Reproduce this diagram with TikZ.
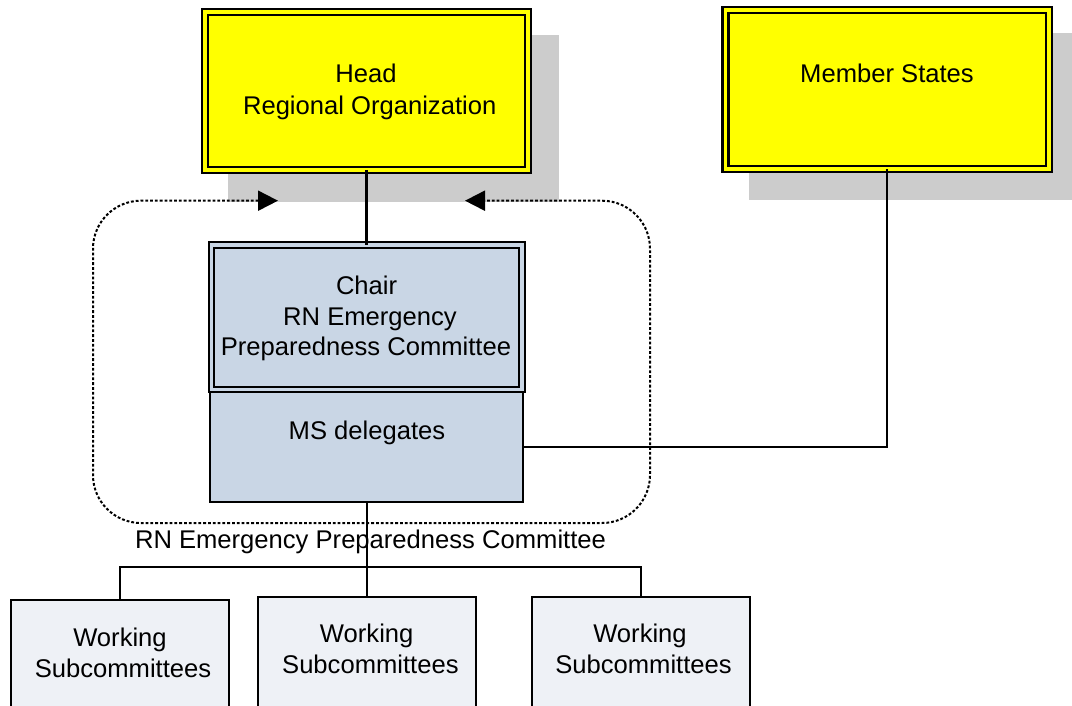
\documentclass[tikz,border=0pt]{standalone}
\usepackage{fontspec}
\setmainfont{Liberation Sans}
\usetikzlibrary{arrows.meta}
\definecolor{shadowgray}{HTML}{CCCCCC}
\definecolor{boxyellow}{HTML}{FFFF00}
\definecolor{chairblue}{HTML}{C9D6E5}
\definecolor{wsfill}{HTML}{EEF1F6}
\begin{document}
\begin{tikzpicture}[x=1pt,y=-1pt,
  every node/.style={inner sep=0pt, outer sep=0pt},
  txt/.style={font=\fontsize{25.6}{31}\selectfont, anchor=base},
  shadowbox/.style={rectangle, fill=shadowgray, draw=none},
  yellowbox/.style={rectangle, draw=black, line width=2.2pt, double=boxyellow, double distance=3.8pt, fill=boxyellow},
  chairbox/.style={rectangle, draw=black, line width=2pt, double=chairblue, double distance=3.2pt, fill=chairblue},
  msbox/.style={rectangle, draw=black, line width=2.2pt, fill=chairblue},
  wsbox/.style={rectangle, draw=black, line width=2.2pt, fill=wsfill, minimum width=218pt},
  conn/.style={draw=black, line width=2.2pt},
  dotline/.style={draw=black, line width=2pt, dash pattern=on 2.8pt off 2pt, rounded corners=48pt, {Triangle[length=20pt,width=20pt]}-{Triangle[length=20pt,width=20pt]}}
]
\useasboundingbox (0,0) rectangle (1072,706);
\clip (0,0) rectangle (1072,706);
\fill[white] (0,0) rectangle (1072,706);

% shadows
\node[shadowbox, minimum width=331pt, minimum height=167pt] (headshadow) at (393.5,118.3) {};
\node[shadowbox, minimum width=331pt, minimum height=167pt] (membershadow) at (914.5,116.5) {};

% top boxes
\node[yellowbox, minimum width=323pt, minimum height=158pt] (head) at (366.5,90.8) {};
\node[yellowbox, minimum width=323.5pt, minimum height=159pt] (member) at (887.2,89.5) {};

% dotted committee frame
\coordinate (arrL) at (278,200.7);
\coordinate (arrR) at (465,200.7);
\coordinate (fTL) at (93,200.7);
\coordinate (fBL) at (93,523);
\coordinate (fBR) at (650,523);
\coordinate (fTR) at (650,200.7);
\draw[dotline] (arrL) -- (fTL) -- (fBL) -- (fBR) -- (fTR) -- (arrR);

% committee boxes
\node[msbox, minimum width=312.8pt, minimum height=110pt] (msdel) at (366.4,447) {};
\node[chairbox, minimum width=310.5pt, minimum height=144.7pt] (chair) at (366.75,317.3) {};

% working subcommittees
\node[wsbox, minimum height=140pt] (wsl) at (119.9,670) {};
\node[wsbox, minimum height=143pt] (wsm) at (366.75,668.5) {};
\node[wsbox, minimum height=143pt] (wsr) at (641,668.5) {};

% texts
\node[txt] (headt1) at (366,83) {Head};
\node[txt] (headt2) at (369.7,115) {Regional Organization};
\node[txt] (membert) at (887,83) {Member States};
\node[txt] (chairt1) at (366.6,294) {Chair};
\node[txt] (chairt2) at (370,325) {RN Emergency};
\node[txt] (chairt3) at (366,355) {Preparedness Committee};
\node[txt] (msdelt) at (367,439) {MS delegates};
\node[txt] (framelabel) at (370.5,548) {RN Emergency Preparedness Committee};
\node[txt] (wslt1) at (120,646) {Working};
\node[txt] (wslt2) at (123,677) {Subcommittees};
\node[txt] (wsmt1) at (366.7,642) {Working};
\node[txt] (wsmt2) at (370.4,673) {Subcommittees};
\node[txt] (wsrt1) at (640,642) {Working};
\node[txt] (wsrt2) at (643.5,673) {Subcommittees};

% connectors
\coordinate (bus) at (366.75,567);
\draw[conn] (head.south) -- (head.south |- chair.north);
\draw[conn] (member.south) |- (msdel.east);
\draw[conn] (msdel.south -| wsm.north) -- (wsm.north);
\draw[conn] (wsl.north) |- (bus) -| (wsr.north);
\end{tikzpicture}
\end{document}
